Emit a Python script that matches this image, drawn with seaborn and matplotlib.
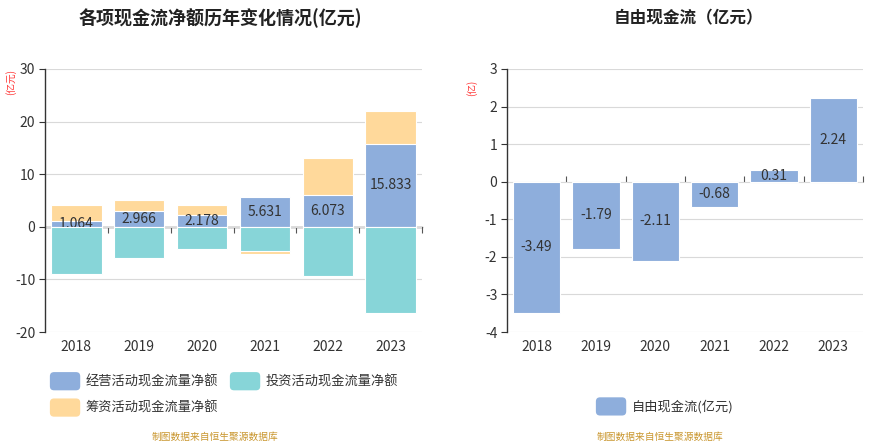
import matplotlib.pyplot as plt
import numpy as np
import pandas as pd
import seaborn as sns
from matplotlib.patches import FancyBboxPatch, Patch
from matplotlib.legend_handler import HandlerPatch

sns.set_theme(style="white")
plt.rcParams['font.family'] = ['Noto Sans CJK SC', 'DejaVu Sans']
plt.rcParams['axes.unicode_minus'] = False

years = ['2018', '2019', '2020', '2021', '2022', '2023']
operating = [1.064, 2.966, 2.178, 5.631, 6.073, 15.833]
investing = [-9.05, -5.89, -4.30, -4.62, -9.43, -16.33]
financing = [3.05, 2.22, 2.00, -0.51, 7.03, 6.26]
free_cf = [-3.49, -1.79, -2.11, -0.68, 0.31, 2.24]

c_op = '#8eaedc'
c_inv = '#87d5d8'
c_fin = '#ffd99b'
grid_c = '#d9d9d9'
text_c = '#333333'

df = pd.DataFrame({'year': years, 'op': operating, 'inv': investing, 'fin': financing})
# sign stacking: positive financing sits on top of operating,
# negative financing sits below investing
df['fin_top'] = df['op'] + df['fin'].clip(lower=0)
df['fin_bot'] = df['inv'] + df['fin'].clip(upper=0)
fcf = pd.DataFrame({'year': years, 'fcf': free_cf})

fig = plt.figure(figsize=(8.89, 4.45), dpi=100)
ax1 = fig.add_axes([45 / 889, 1 - 332 / 445, 377 / 889, 263 / 445])
ax2 = fig.add_axes([507 / 889, 1 - 332 / 445, 356 / 889, 263 / 445])

bar_kw = dict(width=0.8, edgecolor='white', linewidth=0.8, saturation=1)

sns.barplot(data=df, x='year', y='fin_top', color=c_fin, ax=ax1, zorder=2, **bar_kw)
sns.barplot(data=df, x='year', y='fin_bot', color=c_fin, ax=ax1, zorder=2, **bar_kw)
sns.barplot(data=df, x='year', y='op', color=c_op, ax=ax1, zorder=3, **bar_kw)
for i, v in enumerate(operating):
    ax1.text(i, v / 2, f'{v:.3f}', ha='center', va='center', fontsize=10,
             color=text_c, zorder=3.5)
sns.barplot(data=df, x='year', y='inv', color=c_inv, ax=ax1, zorder=4, **bar_kw)

sns.barplot(data=fcf, x='year', y='fcf', color=c_op, ax=ax2, zorder=3, **bar_kw)
for i, v in enumerate(free_cf):
    ax2.text(i, v / 2, f'{v:.2f}', ha='center', va='center', fontsize=10,
             color=text_c, zorder=5)

def style_axis(ax, ylim, step, zero_frac):
    ax.set_xlim(-0.5, 5.5)
    ax.set_ylim(*ylim)
    ax.set_yticks(np.arange(ylim[0], ylim[1] + step / 2, step))
    ax.yaxis.grid(True, color=grid_c, linewidth=0.8, zorder=0)
    ax.set_axisbelow(True)
    ax.set_xlabel('')
    ax.set_ylabel('')
    for s in ['top', 'right', 'bottom']:
        ax.spines[s].set_visible(False)
    ax.spines['left'].set_color('#333333')
    ax.spines['left'].set_linewidth(1.0)
    ax.tick_params(axis='y', direction='out', length=4, width=0.8, color='#333333',
                   labelsize=10, labelcolor=text_c, left=True, pad=3)
    ax.tick_params(axis='x', length=0, labelsize=10, labelcolor=text_c, pad=6)
    # zero axis line with ticks between categories
    sec = ax.secondary_xaxis(zero_frac)
    sec.set_xticks(np.arange(0.5, 6, 1))
    sec.set_xticklabels([])
    sec.tick_params(direction='out', length=4, width=0.8, color='#555555')
    sec.spines['bottom'].set_color('#555555')
    sec.spines['bottom'].set_linewidth(1.0)
    sec.spines['top'].set_visible(False)

style_axis(ax1, (-20, 30), 10, 20 / 50)
style_axis(ax2, (-4, 3), 1, 4 / 7)

fig.text(220 / 889, 1 - 18 / 445, '各项现金流净额历年变化情况(亿元)', ha='center', va='center',
         fontsize=13, fontweight='bold', color='#222222')
fig.text(688 / 889, 1 - 18 / 445, '自由现金流（亿元）', ha='center', va='center',
         fontsize=12, fontweight='bold', color='#222222')
fig.text(11 / 889, 1 - 82 / 445, '(亿元)', rotation=90, ha='center', va='center',
         fontsize=7, color='#ff3333')
fig.text(472 / 889, 1 - 88 / 445, '(亿)', rotation=90, ha='center', va='center',
         fontsize=7, color='#ff3333')


class RoundHandler(HandlerPatch):
    def create_artists(self, legend, orig_handle, xdescent, ydescent, width, height, fontsize, trans):
        p = FancyBboxPatch((-xdescent, -ydescent - 2), width, height + 4,
                           boxstyle='round,pad=0,rounding_size=3',
                           facecolor=orig_handle.get_facecolor(), edgecolor='none',
                           transform=trans)
        return [p]


leg_kw = dict(frameon=False, fontsize=9.5, handlelength=2.3, handleheight=1.1,
              handletextpad=0.4, labelcolor=text_c,
              handler_map={Patch: RoundHandler()})
fig.legend(handles=[Patch(color=c_op, label='经营活动现金流量净额'),
                    Patch(color=c_fin, label='筹资活动现金流量净额'),
                    Patch(color=c_inv, label='投资活动现金流量净额')],
           ncol=2, loc='upper left', bbox_to_anchor=(38 / 889, 1 - 363 / 445),
           columnspacing=0.9, labelspacing=0.95, **leg_kw)
fig.legend(handles=[Patch(color=c_op, label='自由现金流(亿元)')],
           loc='center left', bbox_to_anchor=(584 / 889, 1 - 407 / 445), **leg_kw)

fig.text(215 / 889, 1 - 437 / 445, '制图数据来自恒生聚源数据库', ha='center', va='center',
         fontsize=7, color='#c9962e')
fig.text(660 / 889, 1 - 437 / 445, '制图数据来自恒生聚源数据库', ha='center', va='center',
         fontsize=7, color='#c9962e')

fig.savefig('out.png', dpi=100)
